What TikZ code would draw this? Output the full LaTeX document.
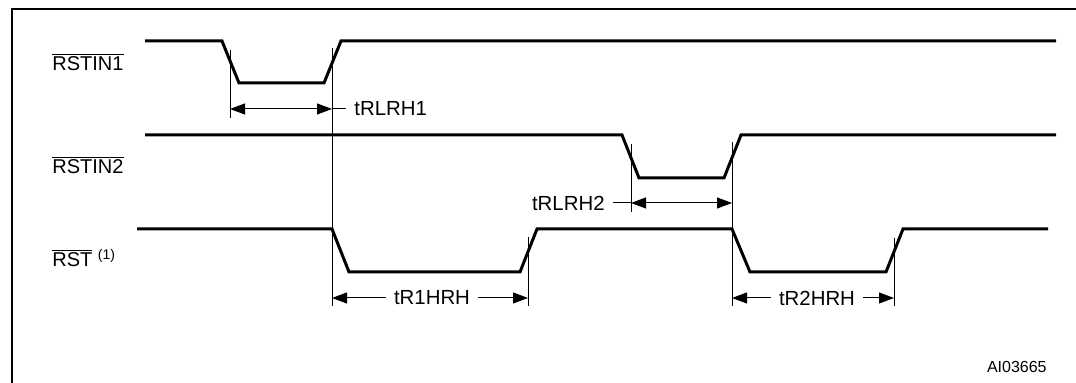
\documentclass[tikz,border=0pt]{standalone}
\usepackage{fontspec}
\setmainfont{Liberation Sans}
\usetikzlibrary{arrows.meta}

\tikzset{
  wave/.style={line width=1.5pt,line join=miter},
  tick/.style={line width=0.5pt},
  dimline/.style={line width=0.5pt,{Triangle[length=7.5pt,width=5.5pt]}-{Triangle[length=7.5pt,width=5.5pt]}},
  halfdim/.style={line width=0.5pt,-{Triangle[length=7.5pt,width=5.5pt]}},
  lbl/.style={inner sep=4pt,font=\fontsize{10.2}{12}\selectfont},
  sig/.style={anchor=base west,inner sep=0pt,font=\fontsize{10}{12}\selectfont},
}

\begin{document}
\begin{tikzpicture}[x=0.5pt,y=-0.5pt]
\useasboundingbox (0,0) rectangle (1076,383);
\draw[line width=0.75pt] (12,400) -- (12,9) -- (1100,9);

\node[sig] (s1) at (52,71) {$\overline{\hbox{RSTIN1}}$};
   \node[sig] (s2) at (52,174) {$\overline{\hbox{RSTIN2}}$};
   \node[sig] (s3) at (52,267) {$\overline{\hbox{RST}}$ \textsuperscript{(1)}};

\draw[wave] (145,41) -- (222,41) -- (239,83) -- (324,83) -- (341,41) -- (1056,41);
   \draw[wave] (145,135) -- (622,135) -- (639,178) -- (724,178) -- (741,135) -- (1056,135);
   \draw[wave] (137,229) -- (332,229) -- (349,272) -- (520,272) -- (537,229) -- (732,229)
      -- (750,272) -- (886,272) -- (903,229) -- (1048,229);

\foreach \x/\a/\b in {230/50/118, 332/48/306, 631/144/212, 732/142/306, 528/237/306, 894/238/306}
      \draw[tick] (\x,\a) -- (\x,\b);

\coordinate (a1) at (230,109);
   \coordinate (b1) at (332,109);
   \coordinate (a2) at (631,203);
   \coordinate (b2) at (732,203);
   \coordinate (a3) at (332,298);
   \coordinate (b3) at (528,298);
   \coordinate (a4) at (732,298);
   \coordinate (b4) at (894,298);

\node[lbl,anchor=west] (t1) at (346,109) {tRLRH1};
   \node[lbl,anchor=east] (t2) at (613,203) {tRLRH2};
   \node[lbl] (t3) at (432,298) {tR1HRH};
   \node[lbl] (t4) at (817,298) {tR2HRH};

\draw[dimline] (a1) -- (b1);
   \draw[tick] (b1) -- (t1.west);
   \draw[dimline] (a2) -- (b2);
   \draw[tick] (t2.east) -- (a2);
   \draw[halfdim] (t3.west) -- (a3);
   \draw[halfdim] (t3.east) -- (b3);
   \draw[halfdim] (t4.west) -- (a4);
   \draw[halfdim] (t4.east) -- (b4);

\node[anchor=east,inner sep=0pt,font=\fontsize{8}{10}\selectfont] (id) at (1047,367) {AI03665};

   \end{tikzpicture}
\end{document}
